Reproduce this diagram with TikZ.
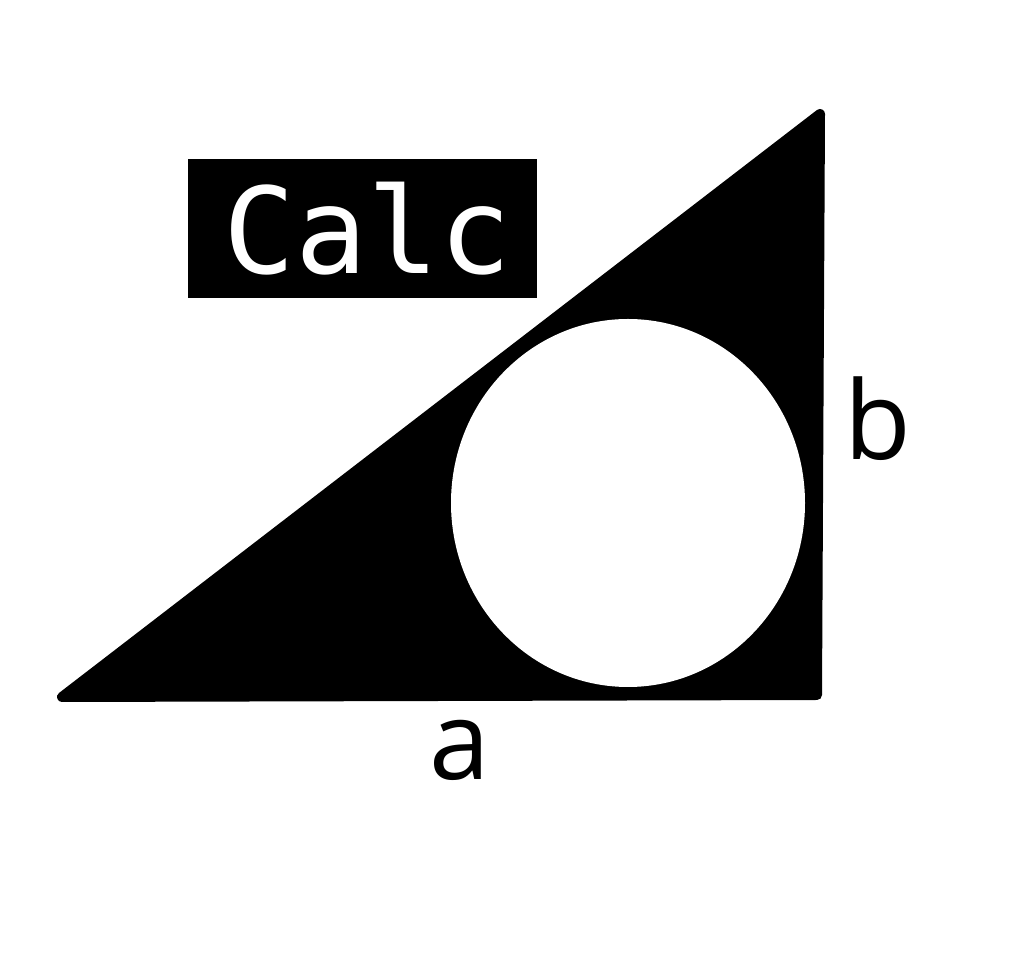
\documentclass[tikz,border=0pt]{standalone}
\usepackage{fontspec}
\usepackage{tikz}
\newfontfamily\calcfont{DejaVu Sans Mono}
\newfontfamily\sidefont{Open Sans}

\begin{document}
\begin{tikzpicture}[
  sidelabel/.style = {font=\sidefont\fontsize{62}{62}\selectfont, inner sep=0pt},
  titlebox/.style = {fill=black, text=white, minimum width=6.98cm, minimum height=2.78cm,
    inner sep=0pt, font=\calcfont\fontsize{68}{68}\selectfont}]
\useasboundingbox (0, 0) rectangle (20.26, 19.28);
\coordinate (A) at (1.24, 5.34);
\coordinate (B) at (16.34, 5.38);
\coordinate (C) at (16.4, 17.0);
\filldraw[black, line width=0.2cm, line join=round] (A) -- (B) -- (C) -- cycle;
\fill[white] (12.56, 9.22) ellipse (3.54 and 3.68);
\draw (7.25, 14.71) node[titlebox] (calc) {\hspace{0.2cm}Calc};
\draw (9.2, 4.28) node[sidelabel] (a) {a};
\draw (17.56, 10.9) node[sidelabel] (b) {b};
\end{tikzpicture}
\end{document}
